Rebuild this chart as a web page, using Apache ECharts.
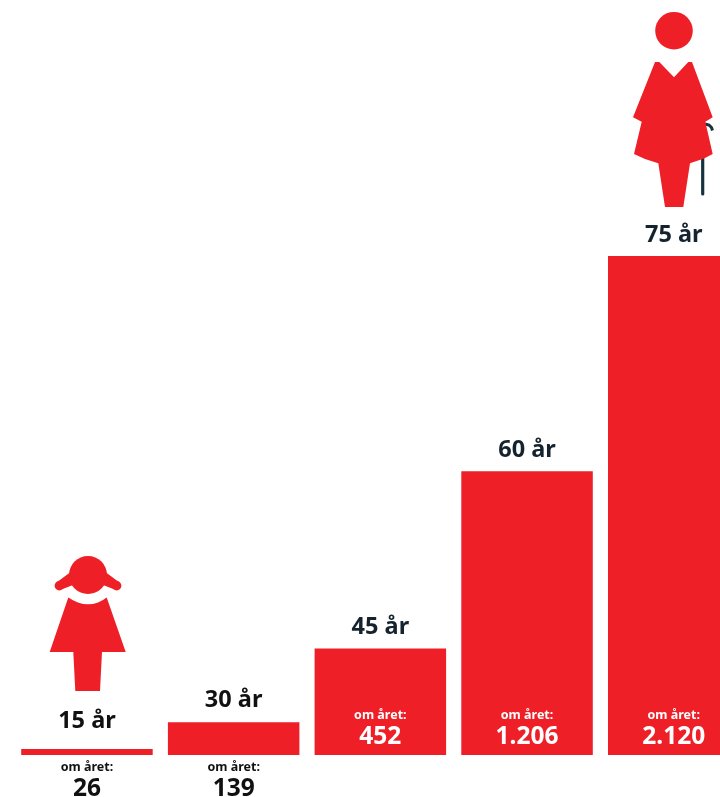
<!DOCTYPE html>
<html>
<head>
<meta charset="utf-8">
<style>html,body{margin:0;padding:0;background:#fff}#c{width:720px;height:797px}</style>
<script src="https://cdn.jsdelivr.net/npm/echarts@6/dist/echarts.min.js"></script>
</head>
<body>
<div id="c"></div>
<script>
const ages = ['15 år', '30 år', '45 år', '60 år', '75 år'];
const perYear = [26, 139, 452, 1206, 2120];
const perYearLabel = 'om året:';
const RED = '#EE1F27', INK = '#14232E', CANE = '#17323F';
const FONT = '"Noto Sans", sans-serif';

const fmt = v => String(v).replace(/\B(?=(\d{3})+$)/g, '.');
const chart = echarts.init(document.getElementById('c'), null, {renderer: 'canvas'});

const ageDist = [16, 10, 9, 9, 9];
const ink = [ '#111', '#111', INK, INK, INK ];

chart.setOption({
  animation: false,
  backgroundColor: '#fff',
  grid: {left: 13.6, top: 256, width: 733.5, height: 499, outerBoundsMode: 'none', containLabel: false},
  xAxis: {type: 'category', data: ages, show: false},
  yAxis: {type: 'value', min: 0, max: 2120, show: false},
  series: [
    {
      type: 'bar', barWidth: 131.5, barGap: '-100%', silent: true, clip: false,
      itemStyle: {color: RED},
      data: perYear.map((v, i) => ({
        value: v,
        label: {
          show: true, position: 'top', distance: ageDist[i], formatter: ages[i],
          fontFamily: FONT, fontWeight: 700, fontSize: 23.5, color: ink[i]
        }
      }))
    },
    {
      type: 'bar', barWidth: 131.5, barGap: '-100%', silent: true, clip: false,
      itemStyle: {color: 'transparent'},
      data: perYear.map((v, i) => {
        const inside = i >= 2;
        const c = inside ? '#fff' : '#111';
        return {
          value: v,
          label: {
            show: true,
            position: inside ? 'insideBottom' : 'bottom',
            distance: inside ? 4 : 4,
            formatter: '{a|' + perYearLabel + '}\n{b|' + fmt(v) + '}',
            rich: {
              a: {fontFamily: FONT, fontWeight: 700, fontSize: 12.5, lineHeight: 16, color: c, align: 'center'},
              b: {fontFamily: FONT, fontWeight: 700, fontSize: 24.5, lineHeight: 28, color: c, align: 'center'}
            }
          }
        };
      })
    }
  ],
  graphic: {elements: [
    // girl
    {type: 'circle', silent: true, shape: {cx: 88, cy: 575, r: 19}, style: {fill: RED}},
    {type: 'polygon', silent: true, shape: {points: [[70, 572.5], [56.5, 582.5], [61.5, 589.5], [73, 585]]}, style: {fill: RED}},
    {type: 'polygon', silent: true, shape: {points: [[106, 572.5], [119.5, 582.5], [114.5, 589.5], [103, 585]]}, style: {fill: RED}},
    {type: 'circle', silent: true, shape: {cx: 59.3, cy: 585.7, r: 4.7}, style: {fill: RED}},
    {type: 'circle', silent: true, shape: {cx: 116.7, cy: 585.7, r: 4.7}, style: {fill: RED}},
    {type: 'polygon', silent: true, shape: {points: [
      [68.3, 597.5], [73, 600.3], [78, 602.6], [83, 603.9], [88, 604.3], [93, 603.9], [98, 602.6], [103, 600], [106.7, 597.5],
      [125.7, 652], [102, 652], [100, 691], [75.3, 691], [73.3, 652], [49.7, 652]
    ]}, style: {fill: RED}},
    // cane
    {type: 'line', silent: true, shape: {x1: 702.7, y1: 155, x2: 702.7, y2: 194}, style: {stroke: CANE, lineWidth: 3.2, lineCap: 'round'}},
    {type: 'polyline', silent: true, shape: {points: [[705, 124], [709, 125], [711.5, 127.5], [712.5, 130.5]]}, style: {stroke: CANE, lineWidth: 3, fill: 'none'}},
    // woman
    {type: 'circle', silent: true, shape: {cx: 674, cy: 30.7, r: 18.8}, style: {fill: RED}},
    {type: 'polygon', silent: true, shape: {points: [
      [655, 62], [659.3, 62], [674, 77.3], [688.3, 62], [692, 62], [712.7, 117.3], [705.3, 121.7], [712.7, 154],
      [704, 158.5], [690, 163.3], [683.3, 207], [665, 207], [658.3, 163.3], [645, 159], [634, 154], [641.7, 121.7], [633, 117.3]
    ]}, style: {fill: RED}}
  ]}
});
</script>
</body>
</html>
